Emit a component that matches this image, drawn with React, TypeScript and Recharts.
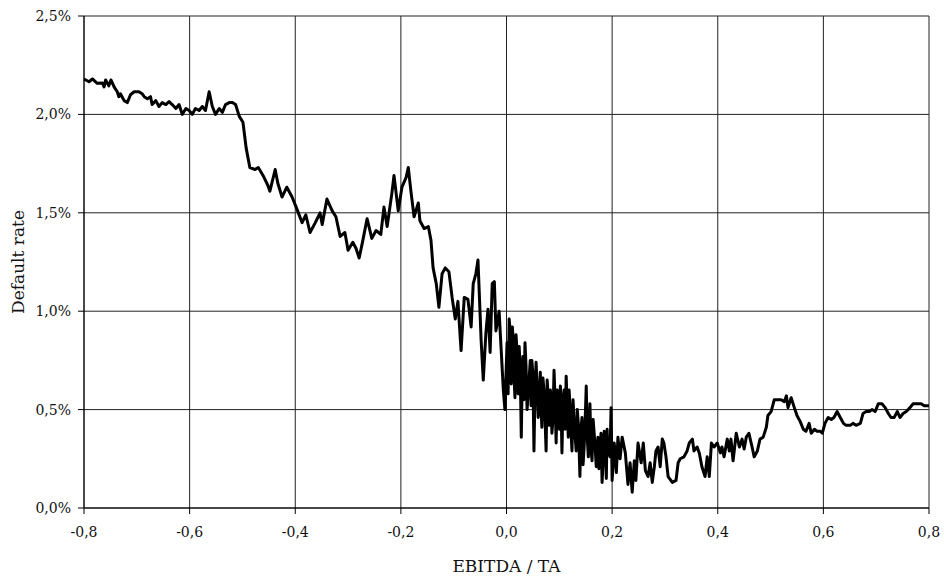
import { LineChart, Line, XAxis, YAxis, CartesianGrid, Label } from 'recharts'

// [EBITDA/TA, default rate in %], split into stretches
const plateau: [number, number][] = [
  [-0.8, 2.18], [-0.7905, 2.166], [-0.784, 2.18], [-0.775, 2.158], [-0.765, 2.16], [-0.762, 2.14],
  [-0.759, 2.175], [-0.753, 2.145], [-0.749, 2.175], [-0.743, 2.14], [-0.737, 2.115], [-0.734, 2.09],
  [-0.731, 2.105], [-0.724, 2.07], [-0.718, 2.06], [-0.712, 2.1], [-0.705, 2.115], [-0.696, 2.115],
  [-0.69, 2.105], [-0.686, 2.09], [-0.68, 2.08], [-0.674, 2.09], [-0.671, 2.05], [-0.664, 2.07],
  [-0.658, 2.04], [-0.652, 2.06], [-0.645, 2.05], [-0.639, 2.065], [-0.633, 2.05], [-0.626, 2.03],
  [-0.62, 2.05], [-0.614, 2.0], [-0.607, 2.03], [-0.601, 2.02], [-0.595, 2.0], [-0.589, 2.03],
  [-0.582, 2.02], [-0.576, 2.04], [-0.57, 2.02], [-0.563, 2.115], [-0.557, 2.04], [-0.551, 2.0],
  [-0.544, 2.03], [-0.538, 2.01], [-0.532, 2.05], [-0.525, 2.06], [-0.519, 2.06], [-0.513, 2.05],
  [-0.506, 1.99], [-0.499, 1.96],
]

const decline: [number, number][] = [
  [-0.493, 1.83], [-0.486, 1.73], [-0.476, 1.72], [-0.47, 1.73], [-0.461, 1.69], [-0.452, 1.64],
  [-0.448, 1.61], [-0.438, 1.72], [-0.433, 1.65], [-0.425, 1.58], [-0.416, 1.63], [-0.406, 1.58],
  [-0.397, 1.52], [-0.387, 1.45], [-0.38, 1.49], [-0.372, 1.4], [-0.362, 1.45], [-0.353, 1.5],
  [-0.349, 1.44], [-0.34, 1.57], [-0.33, 1.51], [-0.323, 1.48], [-0.315, 1.38], [-0.306, 1.4],
  [-0.3, 1.31], [-0.291, 1.35], [-0.285, 1.32], [-0.279, 1.27], [-0.272, 1.36], [-0.264, 1.47],
  [-0.255, 1.37], [-0.247, 1.41], [-0.238, 1.39], [-0.232, 1.53], [-0.226, 1.43], [-0.217, 1.6],
  [-0.213, 1.69], [-0.205, 1.51], [-0.198, 1.63], [-0.19, 1.68], [-0.186, 1.73], [-0.181, 1.61],
  [-0.175, 1.48], [-0.167, 1.55], [-0.164, 1.46], [-0.156, 1.42], [-0.148, 1.43], [-0.143, 1.36],
  [-0.139, 1.22], [-0.133, 1.14], [-0.128, 1.02], [-0.122, 1.19], [-0.116, 1.22], [-0.109, 1.2],
  [-0.103, 1.07], [-0.097, 0.96], [-0.092, 1.05], [-0.086, 0.8], [-0.08, 1.07], [-0.073, 1.06],
  [-0.067, 0.92], [-0.063, 1.14], [-0.058, 1.19], [-0.054, 1.26], [-0.048, 0.85], [-0.044, 0.65],
  [-0.039, 0.89], [-0.035, 1.01], [-0.031, 0.79], [-0.027, 1.14], [-0.023, 1.15], [-0.02, 0.9],
  [-0.014, 1.0], [-0.01, 0.8], [-0.006, 0.6], [-0.003, 0.5],
]

const noisy: [number, number][] = [
  [0.001, 0.84], [0.003, 0.58], [0.005, 0.96], [0.007, 0.9], [0.009, 0.63], [0.011, 0.92],
  [0.013, 0.85], [0.0145, 0.66], [0.016, 0.56], [0.018, 0.88], [0.02, 0.8], [0.022, 0.58],
  [0.024, 0.82], [0.026, 0.7], [0.028, 0.36], [0.0295, 0.62], [0.031, 0.77], [0.033, 0.55],
  [0.035, 0.84], [0.037, 0.72], [0.039, 0.5], [0.042, 0.62], [0.045, 0.75], [0.0465, 0.52],
  [0.048, 0.75], [0.05, 0.68], [0.052, 0.29], [0.054, 0.6], [0.056, 0.74], [0.058, 0.62],
  [0.06, 0.46], [0.062, 0.55], [0.064, 0.69], [0.0655, 0.5], [0.067, 0.41], [0.069, 0.66],
  [0.071, 0.6], [0.073, 0.45], [0.075, 0.29], [0.077, 0.65], [0.079, 0.56], [0.081, 0.42],
  [0.083, 0.6], [0.0845, 0.55], [0.086, 0.38], [0.088, 0.45], [0.09, 0.7], [0.092, 0.55],
  [0.094, 0.33], [0.096, 0.6], [0.098, 0.53], [0.1, 0.4], [0.102, 0.62], [0.1035, 0.5],
  [0.105, 0.28], [0.107, 0.55], [0.109, 0.6], [0.111, 0.4], [0.113, 0.67], [0.115, 0.5],
  [0.117, 0.36], [0.1185, 0.6], [0.12, 0.53], [0.122, 0.4], [0.124, 0.29], [0.126, 0.55],
  [0.128, 0.45], [0.13, 0.36], [0.132, 0.29], [0.134, 0.5], [0.136, 0.43], [0.1375, 0.3],
  [0.139, 0.16], [0.141, 0.4], [0.143, 0.46], [0.145, 0.22], [0.147, 0.31], [0.149, 0.45],
  [0.151, 0.62], [0.153, 0.35], [0.155, 0.26], [0.1565, 0.4], [0.158, 0.53], [0.16, 0.3],
  [0.162, 0.24], [0.164, 0.45], [0.166, 0.38], [0.168, 0.3], [0.17, 0.21], [0.1715, 0.28],
  [0.173, 0.36], [0.175, 0.2], [0.177, 0.3], [0.179, 0.38], [0.181, 0.13], [0.183, 0.25],
  [0.185, 0.39], [0.187, 0.3], [0.189, 0.15], [0.1905, 0.4], [0.192, 0.3], [0.196, 0.26],
  [0.198, 0.51], [0.2, 0.14], [0.204, 0.33], [0.208, 0.18], [0.211, 0.36], [0.215, 0.25],
  [0.219, 0.36], [0.225, 0.28], [0.23, 0.12], [0.234, 0.23], [0.238, 0.08], [0.242, 0.24],
  [0.245, 0.14], [0.249, 0.33], [0.255, 0.23], [0.259, 0.33], [0.263, 0.19], [0.268, 0.16],
  [0.272, 0.23], [0.276, 0.13], [0.28, 0.21], [0.283, 0.29], [0.287, 0.31], [0.291, 0.21],
  [0.295, 0.35], [0.298, 0.33], [0.302, 0.26], [0.306, 0.16], [0.314, 0.13], [0.321, 0.14],
  [0.325, 0.23], [0.329, 0.25], [0.336, 0.26], [0.342, 0.29], [0.346, 0.33], [0.352, 0.35],
  [0.355, 0.29], [0.361, 0.31], [0.365, 0.28], [0.37, 0.21], [0.376, 0.16], [0.38, 0.26],
  [0.384, 0.16], [0.388, 0.33],
]

const tail: [number, number][] = [
  [0.393, 0.31], [0.399, 0.33], [0.405, 0.28], [0.408, 0.31], [0.412, 0.26], [0.418, 0.35],
  [0.422, 0.29], [0.425, 0.35], [0.429, 0.24], [0.435, 0.38], [0.441, 0.31], [0.446, 0.35],
  [0.45, 0.3], [0.454, 0.36], [0.459, 0.38], [0.465, 0.31], [0.469, 0.26], [0.475, 0.29],
  [0.48, 0.35], [0.486, 0.36], [0.492, 0.41], [0.495, 0.47], [0.501, 0.49], [0.507, 0.55],
  [0.513, 0.55], [0.52, 0.55], [0.526, 0.54], [0.53, 0.57], [0.533, 0.51], [0.539, 0.56],
  [0.545, 0.51], [0.55, 0.47], [0.556, 0.44], [0.562, 0.4], [0.567, 0.39], [0.573, 0.43],
  [0.577, 0.38], [0.583, 0.4], [0.588, 0.39], [0.594, 0.39], [0.598, 0.38], [0.603, 0.43],
  [0.609, 0.46], [0.615, 0.45], [0.62, 0.46], [0.626, 0.49], [0.632, 0.46], [0.638, 0.43],
  [0.643, 0.42], [0.651, 0.42], [0.656, 0.43], [0.662, 0.42], [0.67, 0.43], [0.675, 0.48],
  [0.681, 0.49], [0.687, 0.49], [0.692, 0.5], [0.698, 0.49], [0.704, 0.53], [0.711, 0.53],
  [0.717, 0.51], [0.723, 0.48], [0.728, 0.46], [0.734, 0.46], [0.74, 0.49], [0.745, 0.46],
  [0.751, 0.48], [0.757, 0.49], [0.764, 0.51], [0.77, 0.53], [0.778, 0.53], [0.785, 0.53],
  [0.791, 0.52], [0.8, 0.52],
]

const xTicks = [-0.8, -0.6, -0.4, -0.2, 0, 0.2, 0.4, 0.6, 0.8]
const yTicks = [0, 0.5, 1, 1.5, 2, 2.5]

const data = [...plateau, ...decline, ...noisy, ...tail].map(([x, rate]) => ({ x, rate }))

const FONT = '"DejaVu Serif", "Liberation Serif", serif'
const fmtX = (v: number) => v.toFixed(1).replace('.', ',').replace('-0,0', '0,0')
const fmtY = (v: number) => `${v.toFixed(1).replace('.', ',')}%`

export default function App() {
  return (
    <div style={{ position: 'absolute', left: 0, top: 0, width: 944, height: 579, background: '#fff' }}>
      <LineChart width={944} height={579} data={data} margin={{ top: 16, right: 15, bottom: 0, left: 0 }}>
        <CartesianGrid stroke="#222" strokeWidth={1} />
        <XAxis
          dataKey="x"
          type="number"
          domain={[-0.8, 0.8]}
          ticks={xTicks}
          tickFormatter={fmtX}
          height={71}
          stroke="#000"
          tickSize={6}
          tickMargin={13}
          tick={{ fill: '#111', fontSize: 14, fontFamily: FONT }}
        >
          <Label value="EBITDA / TA" position="insideBottom" offset={7} style={{ fill: '#111', fontSize: 17, fontFamily: FONT }} />
        </XAxis>
        <YAxis
          type="number"
          domain={[0, 2.5]}
          ticks={yTicks}
          tickFormatter={fmtY}
          width={84}
          stroke="#000"
          tickSize={6}
          tickMargin={7}
          tick={{ fill: '#111', fontSize: 14, fontFamily: FONT }}
        >
          <Label value="Default rate" angle={-90} position="insideLeft" offset={18} style={{ textAnchor: 'middle', fill: '#111', fontSize: 17, fontFamily: FONT }} />
        </YAxis>
        <Line type="linear" dataKey="rate" stroke="#000" strokeWidth={3} strokeLinejoin="round" dot={false} isAnimationActive={false} />
      </LineChart>
    </div>
  )
}
